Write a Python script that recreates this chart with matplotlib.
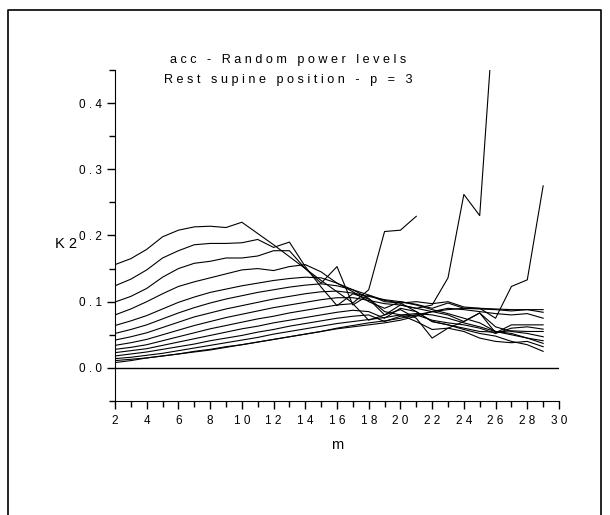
import matplotlib

matplotlib.use("Agg")
import matplotlib.pyplot as plt
import numpy as np
from matplotlib.lines import Line2D
from matplotlib.ticker import FixedLocator, MultipleLocator, FuncFormatter

plt.rcParams["font.family"] = ["Liberation Sans", "DejaVu Sans"]

nan = np.nan
m_values = list(range(2, 30))

# K2 curves, one per power level
curve_a = [0.156, 0.165, 0.179, 0.198, 0.208, 0.213, 0.214, 0.212, 0.220, 0.203, 0.186, 0.168, 0.150, 0.132,
           0.115, 0.098, 0.118, 0.206, 0.208, 0.229, nan, nan, nan, nan, nan, nan, nan, nan]
curve_b = [0.124, 0.134, 0.148, 0.166, 0.177, 0.186, 0.188, 0.188, 0.189, 0.194, 0.182, 0.190, 0.153, 0.122,
           0.094, 0.112, 0.104, 0.080, 0.095, 0.090, 0.095, 0.136, 0.262, 0.230, 0.574, nan, nan, nan]
curve_c = [0.0995, 0.108, 0.120, 0.137, 0.150, 0.158, 0.161, 0.166, 0.166, 0.169, 0.177, 0.177, 0.150, 0.128,
           0.153, 0.095, 0.110, 0.100, 0.098, 0.100, 0.097, 0.100, 0.092, 0.090, 0.075, 0.123, 0.133, 0.275]
curve_d = [0.080, 0.089, 0.100, 0.112, 0.123, 0.130, 0.136, 0.142, 0.148, 0.150, 0.147, 0.153, 0.156, 0.145,
           0.128, 0.115, 0.100, 0.090, 0.100, 0.096, 0.090, 0.098, 0.090, 0.089, 0.088, 0.086, 0.088, 0.084]
curve_e = [0.064, 0.071, 0.079, 0.089, 0.099, 0.107, 0.114, 0.119, 0.124, 0.128, 0.132, 0.135, 0.137, 0.136,
           0.128, 0.118, 0.105, 0.085, 0.080, 0.070, 0.058, 0.060, 0.055, 0.045, 0.040, 0.038, 0.040, 0.032]
curve_f = [0.052, 0.058, 0.065, 0.074, 0.083, 0.091, 0.098, 0.104, 0.109, 0.114, 0.118, 0.122, 0.125, 0.127,
           0.124, 0.118, 0.110, 0.102, 0.098, 0.085, 0.070, 0.065, 0.058, 0.052, 0.048, 0.040, 0.035, 0.025]
curve_g = [0.042, 0.047, 0.053, 0.061, 0.069, 0.077, 0.083, 0.089, 0.094, 0.099, 0.104, 0.108, 0.112, 0.115,
           0.116, 0.113, 0.108, 0.103, 0.100, 0.095, 0.088, 0.082, 0.075, 0.068, 0.055, 0.052, 0.045, 0.037]
curve_h = [0.034, 0.038, 0.043, 0.050, 0.057, 0.064, 0.070, 0.076, 0.081, 0.086, 0.091, 0.095, 0.099, 0.103,
           0.106, 0.106, 0.102, 0.097, 0.095, 0.090, 0.085, 0.080, 0.070, 0.083, 0.062, 0.055, 0.052, 0.047]
curve_i = [0.028, 0.031, 0.035, 0.041, 0.047, 0.053, 0.059, 0.064, 0.069, 0.074, 0.078, 0.083, 0.087, 0.091,
           0.095, 0.097, 0.072, 0.080, 0.088, 0.075, 0.045, 0.060, 0.070, 0.083, 0.053, 0.065, 0.065, 0.065]
curve_j = [0.023, 0.026, 0.029, 0.034, 0.039, 0.044, 0.049, 0.054, 0.059, 0.063, 0.068, 0.072, 0.076, 0.080,
           0.084, 0.087, 0.085, 0.075, 0.090, 0.085, 0.070, 0.065, 0.060, 0.055, 0.054, 0.056, 0.055, 0.055]
curve_k = [0.018, 0.021, 0.024, 0.028, 0.032, 0.036, 0.041, 0.045, 0.049, 0.054, 0.058, 0.063, 0.067, 0.071,
           0.075, 0.078, 0.080, 0.070, 0.078, 0.080, 0.072, 0.068, 0.065, 0.060, 0.052, 0.060, 0.062, 0.0585]
curve_l = [0.014, 0.016, 0.019, 0.022, 0.026, 0.030, 0.034, 0.038, 0.042, 0.046, 0.051, 0.055, 0.059, 0.063,
           0.067, 0.070, 0.073, 0.076, 0.080, 0.082, 0.080, 0.075, 0.068, 0.062, 0.055, 0.050, 0.045, 0.041]
curve_m = [0.011, 0.013, 0.015, 0.018, 0.021, 0.025, 0.028, 0.032, 0.035, 0.039, 0.043, 0.047, 0.051, 0.055,
           0.059, 0.062, 0.065, 0.068, 0.072, 0.078, 0.085, 0.090, 0.088, 0.085, 0.082, 0.080, 0.082, 0.075]
curve_n = [0.008, 0.011, 0.015, 0.018, 0.021, 0.024, 0.027, 0.031, 0.035, 0.039, 0.043, 0.047, 0.051, 0.055,
           0.060, 0.064, 0.068, 0.071, 0.075, 0.080, 0.085, 0.088, 0.090, 0.090, 0.089, 0.088, 0.088, 0.088]

curves = [curve_a, curve_b, curve_c, curve_d, curve_e, curve_f, curve_g,
          curve_h, curve_i, curve_j, curve_k, curve_l, curve_m, curve_n]

x_ticks = [2, 4, 6, 8, 10, 12, 14, 16, 18, 20, 22, 24, 26, 28, 30]
y_ticks = [0.0, 0.1, 0.2, 0.3, 0.4]


def spaced(text: str) -> str:
    return " ".join(text)


fig = plt.figure(figsize=(6.10, 5.15), dpi=100)
ax = fig.add_axes([0.1885, 0.2214, 0.7279, 0.6427])

for values in curves:
    ax.plot(m_values, values, color="black", linewidth=0.8)

ax.axhline(0.0, color="black", linewidth=1.0)

ax.set_xlim(2, 30)
ax.set_ylim(-0.05, 0.45)
ax.spines["top"].set_visible(False)
ax.spines["right"].set_visible(False)
ax.xaxis.set_major_locator(FixedLocator(x_ticks))
ax.xaxis.set_minor_locator(MultipleLocator(1))
ax.yaxis.set_major_locator(FixedLocator(y_ticks))
ax.yaxis.set_minor_locator(FixedLocator([-0.05, 0.05, 0.15, 0.25, 0.35, 0.45]))
ax.xaxis.set_major_formatter(FuncFormatter(lambda v, pos: spaced(f"{v:.0f}")))
ax.yaxis.set_major_formatter(FuncFormatter(lambda v, pos: spaced(f"{v:.1f}")))
ax.tick_params(which="major", length=6, width=1.0, labelsize=8.5, color="black")
ax.tick_params(which="minor", length=4, width=1.0)
ax.tick_params(axis="x", pad=4)

ax.set_xlabel("m", fontsize=10.5, labelpad=8)
ax.set_ylabel("K 2", fontsize=10.5, rotation=0, va="center")
ax.yaxis.set_label_coords(-0.11, 0.475)

ax.text(0.39, 1.021, spaced("acc - Random power levels"), transform=ax.transAxes,
        ha="center", va="baseline", fontsize=9.1)
ax.text(0.39, 0.961, spaced("Rest supine position - p = 3"), transform=ax.transAxes,
        ha="center", va="baseline", fontsize=9.1)

# page frame
frame_x = [8 / 610, 8 / 610, 601 / 610, 601 / 610]
frame_y = [0.0, 1 - 10 / 515, 1 - 10 / 515, 0.0]
fig.add_artist(Line2D(frame_x, frame_y, color="black", linewidth=1.2, transform=fig.transFigure))

fig.savefig("out.png", dpi=100)
plt.close(fig)
